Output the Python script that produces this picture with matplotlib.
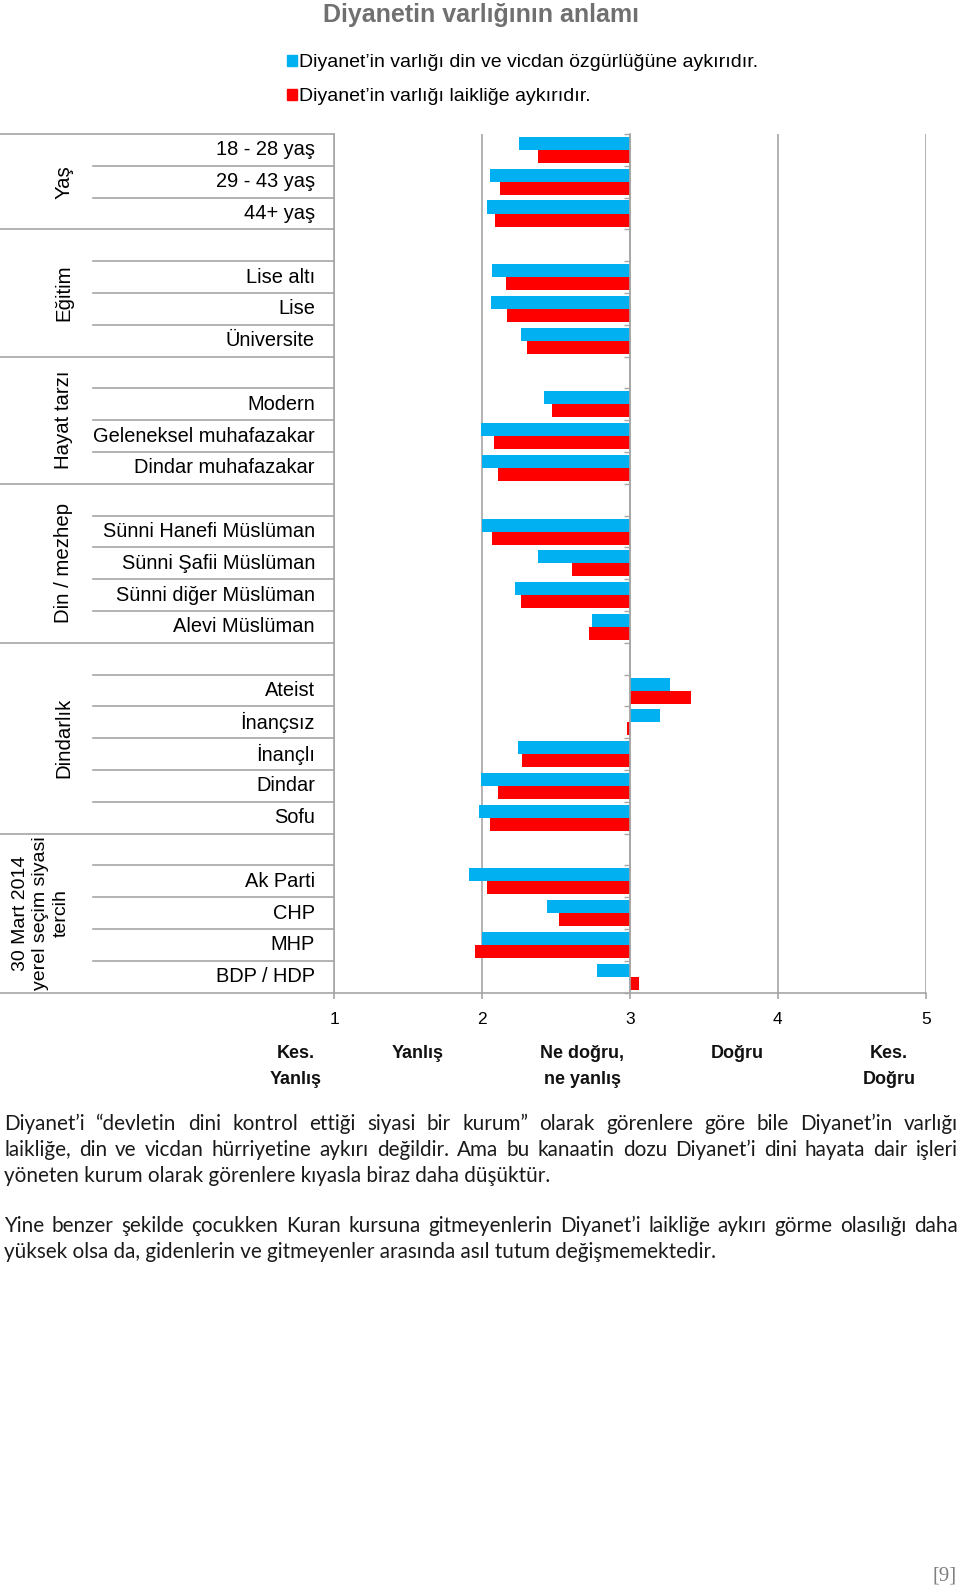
import numpy as np
import matplotlib
matplotlib.use('Agg')
import matplotlib.pyplot as plt
from matplotlib.patches import Patch

nan = np.nan

# kategoriler (boş satırlar = grup araları)
categories = ['18 - 28 yaş', '29 - 43 yaş', '44+ yaş',
              '', 'Lise altı', 'Lise', 'Üniversite',
              '', 'Modern', 'Geleneksel muhafazakar', 'Dindar muhafazakar',
              '', 'Sünni Hanefi Müslüman', 'Sünni Şafii Müslüman', 'Sünni diğer Müslüman', 'Alevi Müslüman',
              '', 'Ateist', 'İnançsız', 'İnançlı', 'Dindar', 'Sofu',
              '', 'Ak Parti', 'CHP', 'MHP', 'BDP / HDP']
group_names = ['Yaş', 'Eğitim', 'Hayat tarzı', 'Din / mezhep', 'Dindarlık',
               '30 Mart 2014\nyerel seçim siyasi\ntercih']

# Diyanet'in varlığı din ve vicdan özgürlüğüne aykırıdır.
din_vicdan = [2.25, 2.05, 2.03,
              nan, 2.07, 2.06, 2.26,
              nan, 2.42, 1.99, 2.00,
              nan, 2.00, 2.38, 2.22, 2.74,
              nan, 3.27, 3.20, 2.24, 1.99, 1.98,
              nan, 1.91, 2.44, 2.00, 2.78]
# Diyanet'in varlığı laikliğe aykırıdır.
laiklik = [2.38, 2.12, 2.09,
           nan, 2.16, 2.17, 2.30,
           nan, 2.47, 2.08, 2.11,
           nan, 2.07, 2.61, 2.26, 2.72,
           nan, 3.41, 2.98, 2.27, 2.11, 2.05,
           nan, 2.03, 2.52, 1.95, 3.06]

legend_labels = ["Diyanet’in varlığı din ve vicdan özgürlüğüne aykırıdır.",
                 "Diyanet’in varlığı laikliğe aykırıdır."]
x_ticks = [1, 2, 3, 4, 5]

paragraph = [
    ("Diyanet’i “devletin dini kontrol ettiği siyasi bir kurum” olarak görenlere göre bile Diyanet’in varlığı", True),
    ("laikliğe, din ve vicdan hürriyetine aykırı değildir. Ama bu kanaatin dozu Diyanet’i dini hayata dair işleri", True),
    ("yöneten kurum olarak görenlere kıyasla biraz daha düşüktür.", False),
    ("Yine benzer şekilde çocukken Kuran kursuna gitmeyenlerin Diyanet’i laikliğe aykırı görme olasılığı daha", True),
    ("yüksek olsa da, gidenlerin ve gitmeyenler arasında asıl tutum değişmemektedir.", False),
]
par_baselines = [1130.5, 1156, 1181.5, 1232, 1257.5]

BLUE = '#00b0f0'
RED = '#ff0000'
GRID = '#a6a6a6'
FONT = ['Liberation Sans', 'DejaVu Sans']

W, H, DPI = 960, 1592, 100
plt.rcParams['font.family'] = FONT

fig = plt.figure(figsize=(W / DPI, H / DPI), dpi=DPI)


def fx(x):
    return x / W


def fy(y):
    return 1 - y / H


# grafik alanı (piksel)
L, R, T, B = 334.3, 925.7, 134.0, 992.7
ax = fig.add_axes([fx(L), fy(B), (R - L) / W, (B - T) / H])

n = len(categories)
y = np.arange(n)
v1 = np.array(din_vicdan, dtype=float)
v2 = np.array(laiklik, dtype=float)
m = ~np.isnan(v1)
ax.barh(y[m] - 0.205, v1[m] - 3, left=3, height=0.41, color=BLUE, zorder=2)
ax.barh(y[m] + 0.205, v2[m] - 3, left=3, height=0.41, color=RED, zorder=2)

ax.set_xlim(1, 5)
ax.set_ylim(n - 0.5, -0.5)
ax.set_xticks(x_ticks)
ax.set_yticks(np.arange(-0.5, n, 1.0))
ax.set_yticklabels([])
for s in ['top', 'right']:
    ax.spines[s].set_visible(False)
ax.spines['left'].set_position(('data', 3))
ax.spines['left'].set_color(GRID)
ax.spines['bottom'].set_color(GRID)
ax.spines['left'].set_linewidth(1.2)
ax.spines['bottom'].set_linewidth(1.2)
ax.tick_params(axis='y', direction='out', length=4.5, width=1, color=GRID)
ax.tick_params(axis='x', direction='out', length=4, width=1.2, color=GRID,
               labelsize=12.5, pad=10)
ax.grid(axis='x', color=GRID, linewidth=1.2)
ax.set_axisbelow(True)
ax.axvline(1, color=GRID, linewidth=1.2, clip_on=False)

# sol taraftaki kategori tablosu
lax = fig.add_axes([0, fy(B), fx(L), (B - T) / H])
lax.set_xlim(0, L)
lax.set_ylim(n - 0.5, -0.5)
lax.axis('off')

starts = [0] + [i for i, c in enumerate(categories) if c == '']
ends = starts[1:] + [n]
bounds = set(starts + [n])
for k in range(n + 1):
    x0 = 0 if k in bounds else 93
    lax.plot([x0, L], [k - 0.5, k - 0.5], color=GRID, linewidth=1.2, clip_on=False)

for i, c in enumerate(categories):
    if c:
        lax.text(315, i, c, ha='right', va='center', fontsize=14.4)

for name, s, e in zip(group_names, starts, ends):
    if '\n' in name:
        xc, fs = 41, 14.0
    else:
        xc, fs = 64, 14.7
    lax.text(xc, (s + e - 1) / 2, name, rotation=90, ha='center', va='center',
             multialignment='center', fontsize=fs, linespacing=1.25)

# ölçek açıklamaları
scale_text = [(296, 'Kes.', 1058.5), (296, 'Yanlış', 1084),
              (418, 'Yanlış', 1058.5),
              (582, 'Ne doğru,', 1058.5), (582, 'ne yanlış', 1084),
              (737, 'Doğru', 1058.5),
              (889, 'Kes.', 1058.5), (889, 'Doğru', 1084)]
for xp, t, yp in scale_text:
    fig.text(fx(xp), fy(yp), t, ha='center', va='baseline', fontsize=13,
             fontweight='bold', color='#111111')

# başlık ve lejant
fig.text(fx(481), fy(22), 'Diyanetin varlığının anlamı', ha='center', va='baseline',
         fontsize=18, fontweight='bold', color='#707070')
handles = [Patch(color=BLUE, label=legend_labels[0]), Patch(color=RED, label=legend_labels[1])]
fig.legend(handles=handles, loc='upper left', bbox_to_anchor=(fx(287), fy(54)),
           frameon=False, fontsize=14.0, handlelength=0.5, handleheight=0.5,
           handletextpad=0.14, labelspacing=0.88, borderpad=0, borderaxespad=0)

# metin paragrafı (iki yana yaslı)
PX0, PX1 = 4, 958
pstyle = dict(fontsize=14.9, family=['Lato', 'DejaVu Sans'], color='#1a1a1a', va='baseline')
renderer = fig.canvas.get_renderer()
for (line, justify), yb in zip(paragraph, par_baselines):
    if not justify:
        fig.text(fx(PX0), fy(yb), line, ha='left', **pstyle)
        continue
    words = line.split()
    texts = [fig.text(0, fy(yb), w, ha='left', **pstyle) for w in words]
    widths = [t.get_window_extent(renderer).width for t in texts]
    gap = (PX1 - PX0 - sum(widths)) / (len(words) - 1)
    xp = PX0
    for t, w in zip(texts, widths):
        t.set_x(fx(xp))
        xp += w + gap

fig.text(fx(957), fy(1576), '[9]', ha='right', va='center', fontsize=15,
         family=['Liberation Serif', 'DejaVu Serif'], color='#7f7f7f')

fig.savefig('out.png', dpi=DPI)
